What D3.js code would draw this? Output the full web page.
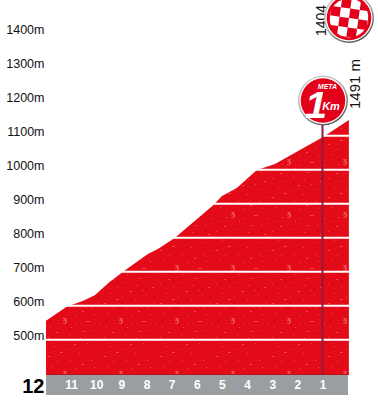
<!DOCTYPE html>
<html lang="en">

<head>
    <meta charset="utf-8">
    <style>
        html, body { margin: 0; padding: 0; background: #fff; }
        svg { display: block; }
        text { font-family: "Liberation Sans", Arial, sans-serif; }
    </style>
</head>

<body>
    <script src='https://d3js.org/d3.v7.min.js'></script>
    <script>

        // km to the finish, elevation in metres
        const kmToGo = [12, 11.18, 10.54, 10.06, 9.47, 8.95, 7.95, 7.55, 6.88, 5.36, 5, 4.41, 3.61, 2.89, 1.9, 0.98, -0.05];
        const elevation = [556, 597, 614, 631, 670, 699, 752, 767, 799, 895, 923, 946, 999, 1017, 1058, 1096, 1146];
        const altTicks = [500, 600, 700, 800, 900, 1000, 1100, 1200, 1300, 1400, 1500];
        const gridTicks = [500, 600, 700, 800, 900, 1000, 1100];
        const kmTicks = [11, 10, 9, 8, 7, 6, 5, 4, 3, 2, 1];
        const startKm = 12;
        const metaKm = 1;
        const metaAlt = "1491 m";
        const finishAlt = "1404 m";

        const width = 378;
        const height = 400;
        const baseY = 375;
        const bandBottom = 395;

        var x = d3.scaleLinear().domain([12, 1]).range([46, 322.5]);
        var y = d3.scaleLinear().domain([500, 1100]).range([339.7, 135.7]);

        var svg = d3.select("body")
            .append("svg")
            .attr("width", width)
            .attr("height", height);

        var defs = svg.append("defs");

        // speckled texture of the profile
        var tile = defs.append("pattern")
            .attr("id", "speckle")
            .attr("patternUnits", "userSpaceOnUse")
            .attr("x", 46).attr("y", 0)
            .attr("width", 56).attr("height", 53);
        tile.append("rect").attr("width", 56).attr("height", 53).attr("fill", "#e30b17");
        const specks = [[17, 0, 4, 1], [18, 1, 2, 1], [17, 2, 4, 1], [19, 3, 2, 2], [17, 5, 3, 1],
            [4, 9, 1, 1], [10, 14, 2, 1], [30, 6, 1, 1], [40, 3, 4, 1], [47, 12, 1, 1], [34, 20, 1, 1],
            [28, 26, 2, 1], [8, 28, 1, 1], [14, 34, 3, 1], [44, 30, 1, 1], [52, 38, 1, 1], [24, 42, 1, 1],
            [36, 46, 2, 1], [6, 48, 1, 1], [48, 49, 1, 1], [25, 9, 1, 1], [37, 13, 2, 1], [2, 19, 1, 1],
            [15, 22, 1, 1], [23, 17, 1, 1], [50, 22, 2, 1], [41, 25, 1, 1], [20, 31, 1, 1], [33, 35, 1, 1],
            [2, 38, 2, 1], [11, 43, 1, 1], [45, 42, 1, 1], [29, 50, 1, 1], [54, 6, 1, 1], [12, 5, 1, 1]];
        tile.selectAll("rect.s").data(specks).enter().append("rect")
            .attr("class", "s")
            .attr("x", d => d[0]).attr("y", d => d[1])
            .attr("width", d => d[2]).attr("height", d => d[3])
            .attr("fill", "#f0474f");

        var ringGrad = defs.append("linearGradient")
            .attr("id", "ring")
            .attr("x1", 0).attr("y1", 0).attr("x2", 0.6).attr("y2", 1);
        ringGrad.append("stop").attr("offset", "0").attr("stop-color", "#d8d8d8");
        ringGrad.append("stop").attr("offset", "0.55").attr("stop-color", "#b0b0b0");
        ringGrad.append("stop").attr("offset", "1").attr("stop-color", "#5a5a5a");

        // kilometre band
        svg.append("rect")
            .attr("x", x(startKm)).attr("y", baseY)
            .attr("width", 348 - x(startKm)).attr("height", bandBottom - baseY)
            .attr("fill", "#9b9ea1");

        // profile
        var area = d3.area()
            .x(function (d, i) { return x(kmToGo[i]); })
            .y0(baseY)
            .y1(function (d) { return y(d); });

        svg.append("path")
            .datum(elevation)
            .attr("d", area)
            .attr("fill", "url(#speckle)");

        svg.append("line")
            .attr("x1", x(startKm)).attr("x2", x(kmToGo[kmToGo.length - 1]))
            .attr("y1", baseY - 0.5).attr("y2", baseY - 0.5)
            .attr("stroke", "#b5121b");

        svg.selectAll("line.grid")
            .data(gridTicks)
            .enter()
            .append("line")
            .attr("class", "grid")
            .attr("x1", x(startKm)).attr("x2", 349)
            .attr("y1", d => y(d)).attr("y2", d => y(d))
            .attr("stroke", "#fff")
            .attr("stroke-width", 2);

        // marker of the last km
        svg.append("line")
            .attr("x1", x(metaKm)).attr("x2", x(metaKm))
            .attr("y1", 125).attr("y2", baseY)
            .attr("stroke", "#8e1b3c")
            .attr("stroke-width", 2);

        // axes
        var yAxis = d3.axisLeft(y)
            .tickValues(altTicks)
            .tickSize(0)
            .tickPadding(0)
            .tickFormat(d => d + "m");

        var gy = svg.append("g")
            .attr("transform", "translate(44.5,-4)")
            .call(yAxis);
        gy.select(".domain").remove();
        gy.selectAll("text")
            .attr("fill", "#111")
            .style("font-size", "12.5px");

        var xAxis = d3.axisBottom(x)
            .tickValues(kmTicks)
            .tickSize(0)
            .tickPadding(0)
            .tickFormat(d => d);

        var gx = svg.append("g")
            .attr("transform", "translate(0," + (baseY + 5) + ")")
            .call(xAxis);
        gx.select(".domain").remove();
        gx.selectAll("text")
            .attr("fill", "#fff")
            .style("font-size", "12px")
            .style("font-weight", "bold");

        svg.append("text")
            .attr("x", 44.5).attr("y", 393)
            .attr("text-anchor", "end")
            .attr("fill", "#000")
            .style("font-size", "20px")
            .style("font-weight", "bold")
            .text(startKm);

        // rotated altitudes
        svg.append("text")
            .attr("transform", "translate(360,109) rotate(-90)")
            .attr("fill", "#111")
            .style("font-size", "15px")
            .text(metaAlt);

        svg.append("text")
            .attr("transform", "translate(326,36) rotate(-90)")
            .attr("fill", "#111")
            .style("font-size", "14px")
            .text(finishAlt);

        function badge(cx, cy) {
            var g = svg.append("g").attr("transform", "translate(" + cx + "," + cy + ")");
            g.append("circle").attr("r", 25).attr("fill", "url(#ring)");
            g.append("circle").attr("r", 23.5).attr("fill", "#fff");
            g.append("circle").attr("r", 22.3).attr("fill", "#e2001a");
            return g;
        }

        // finish flag
        var flag = badge(349, 18);
        defs.append("clipPath").attr("id", "flagClip").append("circle").attr("r", 19.5);
        var checks = flag.append("g")
            .attr("clip-path", "url(#flagClip)")
            .append("g")
            .attr("transform", "rotate(8)");
        d3.range(-3, 3).forEach(function (col) {
            d3.range(-3, 3).forEach(function (row) {
                if ((col + row + 6) % 2 === 0) {
                    checks.append("rect")
                        .attr("x", col * 9.5).attr("y", row * 9.5)
                        .attr("width", 9.5).attr("height", 9.5)
                        .attr("fill", "#fff");
                }
            });
        });

        // "META 1 Km" badge
        var meta = badge(323, 100.5);
        meta.append("text")
            .attr("x", 4.5).attr("y", -12)
            .attr("text-anchor", "middle")
            .attr("fill", "#fff")
            .style("font-size", "7px")
            .style("font-weight", "bold")
            .style("font-style", "italic")
            .text("META");
        meta.append("text")
            .attr("transform", "translate(-7,17) scale(1.1,1.05)")
            .attr("text-anchor", "middle")
            .attr("fill", "#fff")
            .style("font-size", "36px")
            .style("font-weight", "bold")
            .style("font-style", "italic")
            .text("1");
        meta.append("text")
            .attr("x", 8).attr("y", 9.5)
            .attr("text-anchor", "middle")
            .attr("fill", "#fff")
            .style("font-size", "11px")
            .style("font-weight", "bold")
            .style("font-style", "italic")
            .text("Km");

    </script>

</body>

</html>
